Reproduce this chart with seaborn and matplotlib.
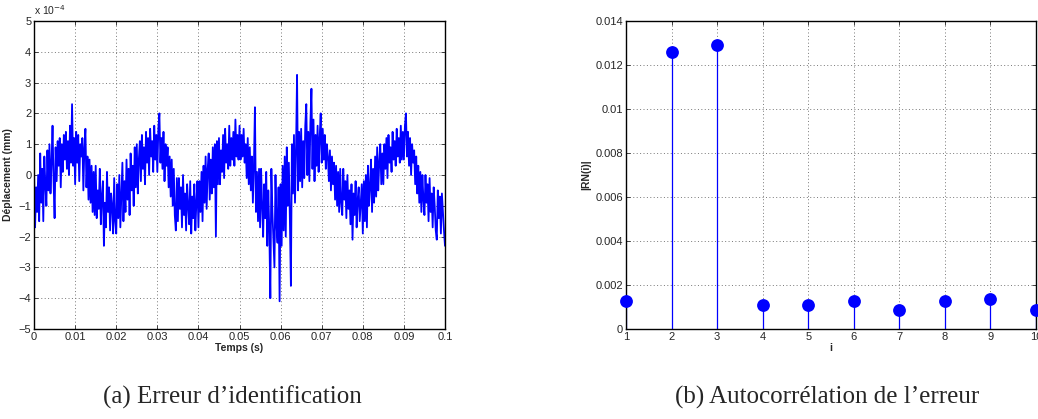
import numpy as np
import pandas as pd
import matplotlib
matplotlib.use("Agg")
import matplotlib.pyplot as plt
import seaborn as sns

# identification error, in units of 1e-4 mm, one sample every 0.25 ms
error_e4 = [
    0.1, -1.7, -0.4, -1.2, 0.0, -1.5, 0.7, -0.9, 0.2, -1.5, 0.6, -0.3, -1.0, 0.8, -0.5, 1.0, -0.6, 0.4, 1.6, -0.2,
    -1.4, 0.9, -0.2, 1.1, 0.3, 1.2, -0.4, 1.0, 0.1, 1.3, 0.5, 1.4, 0.2, 1.1, 0.0, 1.6, 0.4, 2.3, 0.3, 1.2,
    -0.3, 1.4, 0.4, 1.3, -0.2, 1.0, 0.6, 1.2, -0.5, 0.9, 1.5, -0.4, 0.6, -0.8, 0.5, -0.9, 0.3, -1.2, 0.1, -1.3,
    0.3, -1.4, -0.5, -1.1, 0.2, -1.6, -0.7, -0.2, -2.3, -0.9, -1.7, 0.1, -1.2, -0.4, -1.8, -0.6, -1.0, -1.9, -0.1, -1.5,
    -1.9, -0.3, -1.4, 0.0, -1.7, -0.6, 0.4, -1.5, -0.2, -1.2, 0.5, -0.8, 0.2, -1.3, 0.7, -0.5, 0.3, -1.0, 0.9, -0.4,
    1.0, -0.6, 0.5, 1.1, -0.2, 1.3, 0.2, 0.9, -0.3, 1.4, 0.4, 1.2, 0.0, 1.5, 0.6, 1.1, 0.1, 1.6, 0.5, 1.3,
    0.1, 1.5, 2.0, 0.4, 1.2, 0.2, 1.4, -0.2, 1.0, 0.3, 0.9, -0.4, 0.6, -0.7, 0.5, -1.0, 0.2, -1.3, -1.8, -0.1,
    -1.5, -0.1, -1.1, -0.4, -1.7, 0.0, -1.3, -0.6, -1.8, -0.3, -1.0, -1.6, -0.2, -1.9, -0.7, -1.4, -0.3, -1.8, -0.9, -0.2,
    -1.7, -0.2, -1.2, 0.1, -1.5, 0.3, -0.9, 0.6, -1.1, 0.2, 0.7, -0.8, 0.5, -0.6, 0.9, -0.4, 1.0, -2.0, 1.1, -0.3,
    1.2, -0.3, 0.8, 0.1, 1.3, -0.1, 1.5, 0.4, 1.0, 0.2, 1.6, 0.3, 1.2, 0.5, 1.4, 0.3, 1.8, 0.6, 1.3, 0.5,
    1.6, 0.5, 1.3, 0.6, 1.5, 0.4, 1.0, -0.1, 1.2, -0.3, 0.9, -0.5, 0.6, -0.9, 0.3, 2.2, -1.2, 0.1, -1.5, 0.2,
    -1.7, 0.2, -1.0, -2.0, -0.3, -1.4, 0.1, -2.3, -0.5, -1.8, -4.0, 0.2, -1.2, -2.1, -3.0, 0.0, -1.6, -2.2, -0.4, -4.1,
    -0.3, -2.3, 0.3, -1.8, 0.6, -2.0, 0.9, -1.0, 0.4, -1.4, -3.6, 1.0, -0.6, 1.3, -0.9, 0.8, 3.25, -0.5, 1.4, -0.2,
    1.5, -0.4, 1.1, -0.1, 1.6, 2.3, 0.0, 1.4, -0.2, 1.7, 2.8, 0.2, 1.8, -0.2, 1.3, 0.3, 1.6, 0.1, 1.2, 2.0,
    0.4, 1.5, 0.5, 1.3, 0.2, 1.0, 0.6, -0.2, 0.8, -0.5, 0.6, -0.3, 0.4, -0.8, 0.3, -1.0, 0.1, -1.2, 0.2, -0.9,
    -1.3, 0.2, -0.8, -0.2, -1.4, 0.0, -1.1, -0.5, -1.6, -0.3, -2.1, -0.6, -1.3, -0.2, -1.7, -0.8, -0.4, -1.5, -0.9, -0.3,
    -1.9, -0.2, -1.5, 0.0, -1.7, 0.3, -1.0, -0.4, 0.5, -1.2, 0.2, -0.9, 0.6, -0.7, 0.9, -0.5, 0.4, 1.0, -0.3, 0.7,
    -0.3, 1.0, 0.2, 1.2, -0.1, 1.3, 0.4, 0.9, 0.1, 1.4, 0.5, 1.1, 0.3, 1.5, 0.6, 1.2, 0.4, 1.6, 0.5, 1.4,
    0.5, 1.6, 2.0, 0.6, 1.4, 0.3, 1.2, 0.0, 1.0, 0.4, 0.8, -0.3, 0.6, -0.6, 0.3, -0.9, 0.1, -1.2, 0.0, -0.8,
    -1.3, 0.0, -0.9, -0.3, -1.5, -0.1, -1.2, -0.6, -1.7, -0.4, -1.0, -1.8, -2.1, -0.5, -1.4, -0.7, -1.9, -0.6, -1.2, -1.8,
    -2.3,
]
time_s = [i * 0.00025 for i in range(len(error_e4))]

# autocorrelation of the error
lags = [1, 2, 3, 4, 5, 6, 7, 8, 9, 10]
rn = [0.00125, 0.0126, 0.0129, 0.0011, 0.0011, 0.00128, 0.00088, 0.00128, 0.00137, 0.00088]

x_ticks_a = [0, 0.01, 0.02, 0.03, 0.04, 0.05, 0.06, 0.07, 0.08, 0.09, 0.1]
x_labels_a = ["0", "0.01", "0.02", "0.03", "0.04", "0.05", "0.06", "0.07", "0.08", "0.09", "0.1"]
y_ticks_a = [-5, -4, -3, -2, -1, 0, 1, 2, 3, 4, 5]
y_ticks_b = [0, 0.002, 0.004, 0.006, 0.008, 0.01, 0.012, 0.014]
y_labels_b = ["0", "0.002", "0.004", "0.006", "0.008", "0.01", "0.012", "0.014"]

sns.set_theme(style="white")
plt.rcParams['font.family'] = ['Liberation Sans', 'DejaVu Sans']

df_a = pd.DataFrame({"t": time_s, "e": error_e4})
df_b = pd.DataFrame({"i": lags, "rn": rn})

fig = plt.figure(figsize=(10.38, 4.19), dpi=100)
ax1 = fig.add_axes([0.0328, 0.2148, 0.3959, 0.7351])
ax2 = fig.add_axes([0.6031, 0.2148, 0.3950, 0.7351])


def matlab_box(ax):
    for s in ax.spines.values():
        s.set_color("black")
        s.set_linewidth(1.0)
    ax.tick_params(direction="in", length=3, width=0.6, labelsize=8,
                   top=True, right=True, bottom=True, left=True, pad=2)
    ax.grid(True, linestyle=(0, (1, 2.5)), color="#777777", linewidth=0.7)
    ax.set_axisbelow(True)


# (a) error signal
sns.lineplot(data=df_a, x="t", y="e", ax=ax1, color="#0000ff", linewidth=1.3)
ax1.set_xlim(0, 0.1)
ax1.set_ylim(-5, 5)
ax1.set_xticks(x_ticks_a)
ax1.set_xticklabels(x_labels_a)
ax1.set_yticks(y_ticks_a)
matlab_box(ax1)
ax1.set_xlabel("Temps (s)", fontsize=7.5, fontweight="bold", labelpad=1)
ax1.set_ylabel("Déplacement (mm)", fontsize=7.5, fontweight="bold", labelpad=4)
ax1.text(0.0, 1.012, r"x 10$^{-4}$", transform=ax1.transAxes, fontsize=7.5,
         ha="left", va="bottom")

# (b) autocorrelation stems
ax2.vlines(df_b["i"], 0, df_b["rn"], color="#0000ff", linewidth=0.9)
sns.scatterplot(data=df_b, x="i", y="rn", ax=ax2, color="#0000ff", s=85,
                edgecolor="#0000ff", linewidth=0, clip_on=False, zorder=3)
ax2.set_xlim(1, 10)
ax2.set_ylim(0, 0.014)
ax2.set_xticks(lags)
ax2.set_yticks(y_ticks_b)
ax2.set_yticklabels(y_labels_b)
matlab_box(ax2)
ax2.set_xlabel("i", fontsize=7.5, fontweight="bold", labelpad=1)
ax2.set_ylabel("|RN(i)|", fontsize=7.5, fontweight="bold", labelpad=3)

fig.text(0.2235, 0.052, "(a) Erreur d’identification", fontsize=18,
         family=["Liberation Serif", "DejaVu Serif"], ha="center", va="center")
fig.text(0.797, 0.052, "(b) Autocorrélation de l’erreur", fontsize=18,
         family=["Liberation Serif", "DejaVu Serif"], ha="center", va="center")

fig.savefig("out.png", dpi=100)
